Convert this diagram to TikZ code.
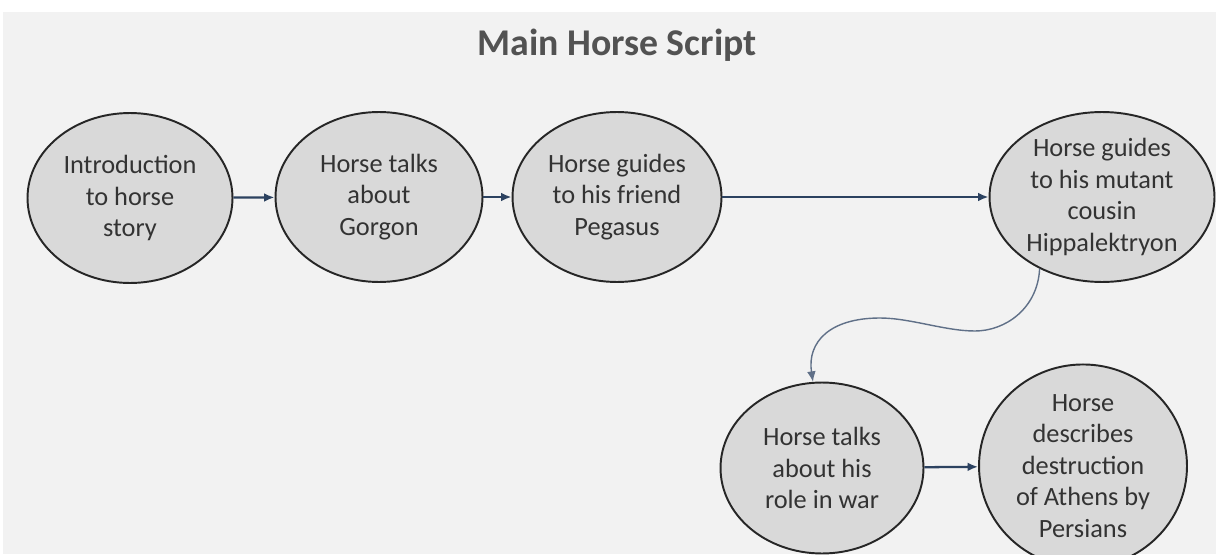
\documentclass[tikz,border=0pt]{standalone}
\usepackage{fontspec}
\setmainfont{Carlito}
\usetikzlibrary{arrows.meta,shapes.geometric}
\definecolor{fondogris}{RGB}{242,242,242}
\definecolor{elipsegris}{RGB}{217,217,217}
\definecolor{flechaazul}{RGB}{44,66,96}
\definecolor{curvaazul}{RGB}{96,112,136}
\definecolor{textogris}{RGB}{51,51,51}

\begin{document}
\begin{tikzpicture}[x=0.02cm, y=-0.02cm,
    paso/.style={ellipse, draw=black!85, line width=1.1pt, fill=elipsegris,
      inner sep=0pt, align=center, text=textogris,
      font=\fontsize{15}{18}\selectfont},
    flecha/.style={draw=flechaazul, line width=1.3pt, -{Latex[length=6pt,width=5pt]}},
    curva/.style={draw=curvaazul, line width=0.8pt, -{Latex[length=6pt,width=5pt]}}]
        % fondo y margenes
        \useasboundingbox (0,0) rectangle (1216,554);
        \fill[white] (0,0) rectangle (1216,554);
        \fill[fondogris] (3,12) rectangle (1216,554);
        \node[text=black!68, font=\fontsize{21.5}{24}\bfseries] (titulo) at (617,45) {Main Horse Script};
        % fila superior
        \node[paso, minimum width=4.1cm, minimum height=3.4cm] (intro) at (130,198) {Introduction\\to horse\\story};
        \node[paso, minimum width=4.14cm, minimum height=3.4cm] (gorgona) at (379,197) {Horse talks\\about\\Gorgon};
        \node[paso, minimum width=4.18cm, minimum height=3.4cm] (pegaso) at (617,197) {Horse guides\\to his friend\\Pegasus};
        \node[paso, minimum width=4.5cm, minimum height=3.4cm] (hipa) at (1102,197) {Horse guides\\to his mutant\\cousin\\Hippalektryon};
        % fila inferior
        \node[paso, minimum width=4.06cm, minimum height=3.42cm] (guerra) at (822,468) {Horse talks\\about his\\role in war};
        \node[paso, minimum width=4.16cm, minimum height=3.36cm] (persas) at (1083,466) {Horse\\describes\\destruction\\of Athens by\\Persians};
        \draw[flecha] (intro) -- (gorgona);
        \draw[flecha] (gorgona) -- (pegaso);
        \draw[flecha] (pegaso) -- (hipa);
        \draw[curva] (hipa.-131) .. controls +(-2,40) and +(30,0) .. (975,331)
          .. controls +(-30,0) and +(30,0) .. (880,318)
          .. controls +(-50,0) and +(-6,-40) .. (guerra.96);
        \draw[flecha] (guerra) -- (persas);
\end{tikzpicture}
\end{document}
